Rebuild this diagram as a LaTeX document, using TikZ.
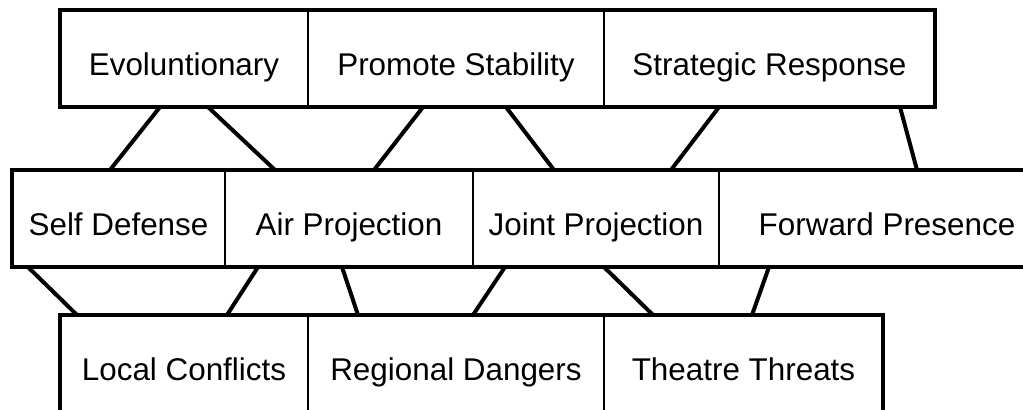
\documentclass[tikz,border=0pt]{standalone}
\usepackage{fontspec}
\setmainfont{Liberation Sans}
\usepackage{tikz}
\usetikzlibrary{calc}

\begin{document}
\begin{tikzpicture}[x=0.5pt, y=-0.5pt,
    cell/.style={draw, line width=1pt, outer sep=0pt, minimum height=48.5pt, inner sep=0pt,
        text height=17.2pt, text depth=0pt, font=\fontsize{15.7}{19}\selectfont},
    frame/.style={draw, line width=2pt},
    link/.style={line width=2pt}
]
    \clip (0,0) rectangle (1023,409);
    % top row
    \node[cell, minimum width=124pt] (evo) at (184,58.5) {Evoluntionary};
    \node[cell, minimum width=148pt] (prom) at (456,58.5) {Promote Stability};
    \node[cell, minimum width=165.5pt] (strat) at (769.5,58.5) {Strategic Response};
    % middle row
    \node[cell, minimum width=106.5pt] (self) at (118.5,218.5) {Self Defense};
    \node[cell, minimum width=124pt] (air) at (349,218.5) {Air Projection};
    \node[cell, minimum width=123pt] (joint) at (596,218.5) {Joint Projection};
    \node[cell, minimum width=168pt] (fwd) at (887,218.5) {Forward Presence};
    % bottom row
    \node[cell, minimum width=124pt] (local) at (184,363.5) {Local Conflicts};
    \node[cell, minimum width=148pt] (reg) at (456,363.5) {Regional Dangers};
    \node[cell, minimum width=139.5pt] (theatre) at (743.5,363.5) {Theatre Threats};

    \draw[frame] (evo.north west) rectangle (strat.south east);
    \draw[frame] (self.north west) rectangle (fwd.south east);
    \draw[frame] (local.north west) rectangle (theatre.south east);

    % links between rows
    \foreach \a/\da/\b/\db in {evo/100/self/98, evo/148/air/50, prom/115/air/149, prom/198/joint/81,
        strat/115/joint/198, strat/296/fwd/198, self/16/local/17, air/33/local/167,
        air/117/reg/50, joint/32/reg/165, joint/131/theatre/49, fwd/50/theatre/148}
        \draw[link] ($(\a.south west)+(\da,0)$) -- ($(\b.north west)+(\db,0)$);
\end{tikzpicture}
\end{document}
